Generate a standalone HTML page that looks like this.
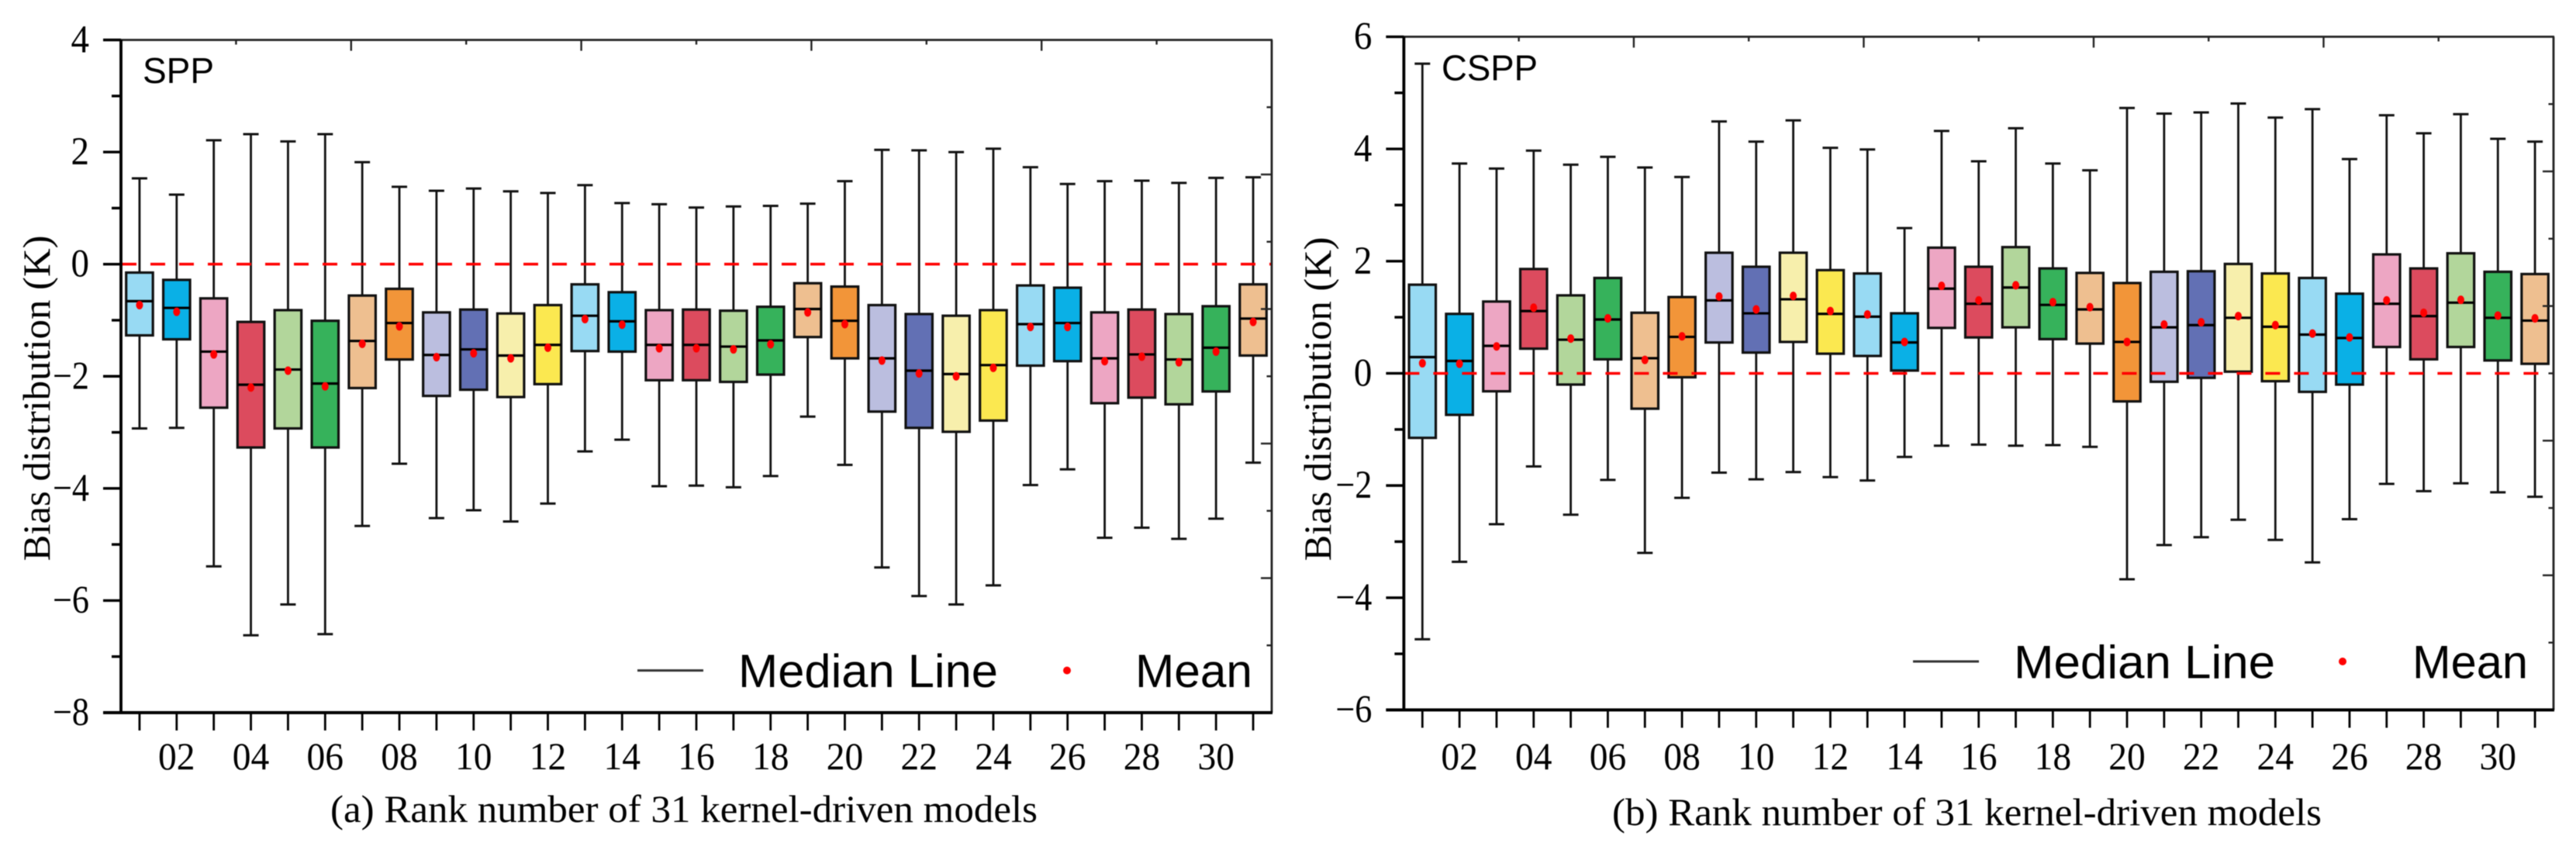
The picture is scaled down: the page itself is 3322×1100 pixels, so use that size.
<!DOCTYPE html>
<html lang="en">
<head>
<meta charset="utf-8">
<title>Bias distribution of 31 kernel-driven models</title>
<style>
html,body{margin:0;padding:0;background:#fff;width:3322px;height:1100px;overflow:hidden}
svg{display:block;position:absolute;left:0;top:0;filter:blur(0.6px)}
text{fill:#000}
.serif{font-family:"Liberation Serif",serif}
.sans{font-family:"Liberation Sans",sans-serif}
</style>
</head>
<body>
<svg id="chart" xmlns="http://www.w3.org/2000/svg" width="3322" height="1100" viewBox="0 0 3322 1100">
  <rect x="0" y="0" width="3322" height="1100" fill="#fff"/>
  <g id="panel-a"></g>
  <g id="panel-b"></g>

  <text class="serif" transform="translate(64,723.5) rotate(-90)" font-size="50" textLength="420" lengthAdjust="spacingAndGlyphs">Bias distribution (K)</text>
  <text class="serif" x="426" y="1060" font-size="50" textLength="912" lengthAdjust="spacingAndGlyphs">(a) Rank number of 31 kernel-driven models</text>
  <text class="sans" x="184" y="107" font-size="46" textLength="92" lengthAdjust="spacingAndGlyphs">SPP</text>
  <line x1="822" x2="907" y1="864.6" y2="864.6" stroke="#333" stroke-width="3"/>
  <text class="sans" x="952" y="886" font-size="60" textLength="335" lengthAdjust="spacingAndGlyphs">Median Line</text>
  <ellipse cx="1376" cy="864.6" rx="5" ry="5" fill="#f00"/>
  <text class="sans" x="1464" y="886" font-size="60" textLength="151" lengthAdjust="spacingAndGlyphs">Mean</text>

  <text class="serif" transform="translate(1716,723.5) rotate(-90)" font-size="50" textLength="418" lengthAdjust="spacingAndGlyphs">Bias distribution (K)</text>
  <text class="serif" x="2079" y="1064" font-size="50" textLength="915" lengthAdjust="spacingAndGlyphs">(b) Rank number of 31 kernel-driven models</text>
  <text class="sans" x="1859" y="103.5" font-size="46" textLength="124" lengthAdjust="spacingAndGlyphs">CSPP</text>
  <line x1="2467" x2="2552" y1="853" y2="853" stroke="#333" stroke-width="3"/>
  <text class="sans" x="2597" y="874.5" font-size="60" textLength="337" lengthAdjust="spacingAndGlyphs">Median Line</text>
  <ellipse cx="3021" cy="853" rx="5" ry="5" fill="#f00"/>
  <text class="sans" x="3111" y="874.5" font-size="60" textLength="149" lengthAdjust="spacingAndGlyphs">Mean</text>
</svg>
<script>
// Shared tick labels and model categories
const ranks = [1,2,3,4,5,6,7,8,9,10,11,12,13,14,15,16,17,18,19,20,21,22,23,24,25,26,27,28,29,30,31];
const xTickLabels = ["","02","","04","","06","","08","","10","","12","","14","","16","","18","","20","","22","","24","","26","","28","","30",""];
const boxColors = ["#98DAF3","#0AB0E6","#EDA6C3","#DC4B5E","#B2D69B","#36B25B","#EEBF90","#F29539","#BBBEDF","#6270B4","#F7EFAC","#FBE850"];

// Panel (a) SPP values, in K
const sppYTicks = [-8,-7,-6,-5,-4,-3,-2,-1,0,1,2,3,4];
const sppWhiskerHigh = [1.53,1.24,2.21,2.32,2.19,2.32,1.82,1.38,1.31,1.35,1.30,1.27,1.41,1.09,1.07,1.01,1.03,1.04,1.08,1.48,2.04,2.03,2.00,2.06,1.73,1.43,1.48,1.49,1.45,1.54,1.55];
const sppQ3 = [-0.15,-0.28,-0.61,-1.03,-0.82,-1.01,-0.56,-0.44,-0.86,-0.81,-0.88,-0.73,-0.36,-0.50,-0.82,-0.81,-0.83,-0.76,-0.34,-0.40,-0.73,-0.89,-0.92,-0.82,-0.38,-0.42,-0.86,-0.81,-0.89,-0.75,-0.36];
const sppMedian = [-0.66,-0.78,-1.56,-2.15,-1.88,-2.13,-1.37,-1.05,-1.62,-1.52,-1.63,-1.44,-0.92,-1.02,-1.44,-1.44,-1.47,-1.36,-0.80,-1.01,-1.68,-1.90,-1.96,-1.80,-1.07,-1.05,-1.68,-1.61,-1.70,-1.49,-0.97];
const sppMean = [-0.73,-0.85,-1.61,-2.20,-1.90,-2.18,-1.42,-1.11,-1.66,-1.59,-1.68,-1.49,-0.98,-1.08,-1.50,-1.50,-1.52,-1.43,-0.86,-1.07,-1.72,-1.95,-2.00,-1.85,-1.12,-1.12,-1.73,-1.65,-1.75,-1.56,-1.03];
const sppQ1 = [-1.27,-1.34,-2.56,-3.27,-2.93,-3.27,-2.21,-1.70,-2.35,-2.24,-2.37,-2.14,-1.55,-1.56,-2.07,-2.07,-2.10,-1.97,-1.30,-1.68,-2.63,-2.92,-2.99,-2.79,-1.81,-1.73,-2.48,-2.38,-2.50,-2.27,-1.63];
const sppWhiskerLow = [-2.93,-2.92,-5.39,-6.62,-6.07,-6.60,-4.67,-3.56,-4.53,-4.39,-4.59,-4.27,-3.34,-3.13,-3.96,-3.95,-3.98,-3.78,-2.72,-3.58,-5.41,-5.92,-6.07,-5.73,-3.94,-3.66,-4.88,-4.70,-4.90,-4.54,-3.54];

// Panel (b) CSPP values, in K
const csppYTicks = [-6,-5,-4,-3,-2,-1,0,1,2,3,4,5,6];
const csppWhiskerHigh = [5.52,3.74,3.65,3.97,3.72,3.86,3.67,3.50,4.49,4.13,4.51,4.02,3.99,2.59,4.32,3.78,4.37,3.74,3.62,4.73,4.63,4.65,4.81,4.56,4.71,3.82,4.60,4.28,4.62,4.18,4.13];
const csppQ3 = [1.58,1.06,1.28,1.86,1.39,1.70,1.08,1.36,2.15,1.90,2.15,1.84,1.78,1.07,2.24,1.90,2.25,1.87,1.79,1.61,1.81,1.82,1.95,1.78,1.70,1.42,2.12,1.87,2.14,1.81,1.77];
const csppMedian = [0.29,0.22,0.49,1.11,0.60,0.96,0.27,0.65,1.30,1.07,1.32,1.06,1.01,0.55,1.51,1.24,1.53,1.22,1.14,0.56,0.82,0.86,0.99,0.83,0.69,0.63,1.24,1.02,1.26,0.99,0.94];
const csppMean = [0.18,0.17,0.48,1.17,0.62,0.98,0.24,0.66,1.37,1.14,1.38,1.11,1.05,0.56,1.56,1.30,1.57,1.27,1.18,0.56,0.87,0.91,1.02,0.86,0.71,0.64,1.30,1.08,1.31,1.03,0.98];
const csppQ1 = [-1.15,-0.74,-0.32,0.44,-0.20,0.25,-0.63,-0.07,0.55,0.37,0.56,0.35,0.31,0.05,0.81,0.64,0.82,0.61,0.53,-0.50,-0.15,-0.08,0.03,-0.14,-0.33,-0.20,0.47,0.25,0.47,0.23,0.17];
const csppWhiskerLow = [-4.74,-3.36,-2.69,-1.66,-2.52,-1.90,-3.20,-2.22,-1.77,-1.89,-1.76,-1.85,-1.91,-1.49,-1.29,-1.27,-1.29,-1.28,-1.31,-3.67,-3.06,-2.92,-2.61,-2.97,-3.37,-2.60,-1.97,-2.10,-1.96,-2.12,-2.20];

const NS = 'http://www.w3.org/2000/svg';
function shape(parent, tag, attrs) {
  const node = document.createElementNS(NS, tag);
  for (const key in attrs) node.setAttribute(key, attrs[key]);
  parent.appendChild(node);
  return node;
}

function drawPanel(root, slug, frame, yTicks, whiskerHigh, q3, median, mean, q1, whiskerLow) {
  const yMin = yTicks[0];
  const yMax = yTicks[yTicks.length - 1];
  const xScale = v => frame.left + (v - 0.5) * (frame.right - frame.left) / ranks.length;
  const yScale = v => frame.bottom - (v - yMin) * (frame.bottom - frame.top) / (yMax - yMin);
  const boxW = 34.5, capW = 20;

  // Whisker and box marks
  ranks.forEach((rank, i) => {
    const cx = xScale(rank);
    const g = shape(root, 'g', {});
    
    

    const stem = shape(g, 'line', {x1: cx, x2: cx, y1: yScale(whiskerHigh[i]), y2: yScale(whiskerLow[i]), stroke: '#111', 'stroke-width': 2.8});
    
    

    const capHigh = shape(g, 'line', {x1: cx - capW / 2, x2: cx + capW / 2, y1: yScale(whiskerHigh[i]), y2: yScale(whiskerHigh[i]), stroke: '#111', 'stroke-width': 3});
    
    

    const capLow = shape(g, 'line', {x1: cx - capW / 2, x2: cx + capW / 2, y1: yScale(whiskerLow[i]), y2: yScale(whiskerLow[i]), stroke: '#111', 'stroke-width': 3});
    
    

    const body = shape(g, 'rect', {x: cx - boxW / 2, y: yScale(q3[i]), width: boxW, height: yScale(q1[i]) - yScale(q3[i]), fill: boxColors[i % boxColors.length], stroke: '#111', 'stroke-width': 3.2});
    
    

    const medianLine = shape(g, 'line', {x1: cx - boxW / 2, x2: cx + boxW / 2, y1: yScale(median[i]), y2: yScale(median[i]), stroke: '#000', 'stroke-width': 3.2});
    
    

    const meanDot = shape(g, 'ellipse', {cx: cx, cy: yScale(mean[i]), rx: 4.5, ry: 5.5, fill: '#f00'});
    
    
  });

  // Zero reference line
  const zero = shape(root, 'line', {x1: frame.left + 1, x2: frame.right, y1: yScale(0), y2: yScale(0), stroke: '#f00', 'stroke-width': 3.5, 'stroke-dasharray': '19 18'});
  
  

  // Frame
  const top = shape(root, 'line', {x1: frame.left - 23, x2: frame.right + 1, y1: frame.top, y2: frame.top, stroke: '#222', 'stroke-width': 2.8});
  
  

  const right = shape(root, 'line', {x1: frame.right, x2: frame.right, y1: frame.top, y2: frame.bottom, stroke: '#222', 'stroke-width': 2.8});
  
  

  const leftAxis = shape(root, 'line', {x1: frame.left, x2: frame.left, y1: frame.top, y2: frame.bottom, stroke: '#000', 'stroke-width': 3.8});
  
  

  const bottomAxis = shape(root, 'line', {x1: frame.left - 23, x2: frame.right + 1, y1: frame.bottom, y2: frame.bottom, stroke: '#000', 'stroke-width': 4});
  
  

  // Y ticks and labels
  yTicks.forEach(v => {
    const major = v % 2 === 0;
    const tick = shape(root, 'line', {x1: frame.left - (major ? 23 : 12), x2: frame.left, y1: yScale(v), y2: yScale(v), stroke: '#000', 'stroke-width': 3.4});
    
    
    if (major) {
      const label = shape(root, 'text', {x: frame.left - 41, y: yScale(v) + 16, 'font-size': 51, 'text-anchor': 'end', class: 'serif', textLength: v < 0 ? 47 : 23.5, lengthAdjust: 'spacingAndGlyphs'});
      label.textContent = (v < 0 ? '\u2212' : '') + Math.abs(v);
      
      
    }
  });

  // X ticks and labels
  ranks.forEach((rank, i) => {
    const tick = shape(root, 'line', {x1: xScale(rank), x2: xScale(rank), y1: frame.bottom, y2: frame.bottom + 23, stroke: '#000', 'stroke-width': 2.8});
    
    
    if (xTickLabels[i]) {
      const label = shape(root, 'text', {x: xScale(rank), y: 992, 'font-size': 50, 'text-anchor': 'middle', class: 'serif', textLength: 47.5, lengthAdjust: 'spacingAndGlyphs'});
      label.textContent = xTickLabels[i];
      
      
    }
  });

  // Unlabelled mirror ticks on the top and right spines
  for (let k = 1; k < 10; k++) {
    const major = k % 2 === 0;
    const px = frame.left + (frame.right - frame.left) * k / 10;
    const topTick = shape(root, 'line', {x1: px, x2: px, y1: frame.top, y2: frame.top + (major ? 14 : 6), stroke: '#222', 'stroke-width': 2.4});
    
    

    const py = frame.top + (frame.bottom - frame.top) * k / 10;
    const rightTick = shape(root, 'line', {x1: frame.right - (major ? 14 : 6.5), x2: frame.right, y1: py, y2: py, stroke: '#222', 'stroke-width': 2.4});
    
    
  }
}

drawPanel(document.getElementById('panel-a'), 'spp', {left: 156, right: 1640, top: 51.5, bottom: 919}, sppYTicks, sppWhiskerHigh, sppQ3, sppMedian, sppMean, sppQ1, sppWhiskerLow);
drawPanel(document.getElementById('panel-b'), 'cspp', {left: 1810.4, right: 3293, top: 47.4, bottom: 915.5}, csppYTicks, csppWhiskerHigh, csppQ3, csppMedian, csppMean, csppQ1, csppWhiskerLow);
</script>
</body>
</html>
